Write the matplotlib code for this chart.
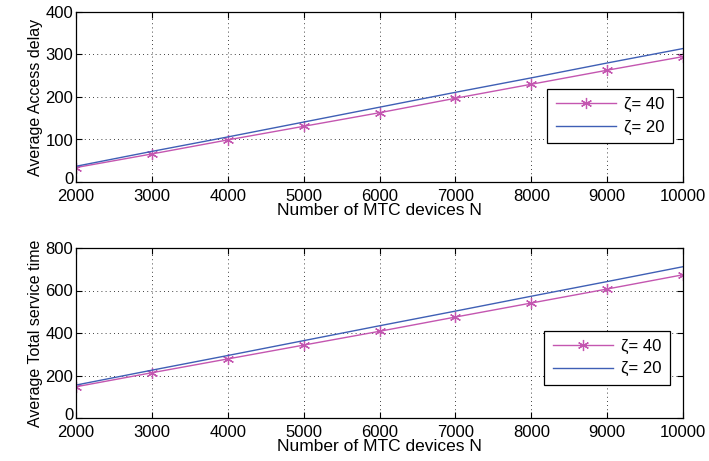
import matplotlib
matplotlib.use("Agg")
import matplotlib.pyplot as plt
import matplotlib.transforms as mtransforms

plt.rcParams['font.family'] = ['Liberation Sans', 'DejaVu Sans']

# number of MTC devices
n_devices = [2000, 3000, 4000, 5000, 6000, 7000, 8000, 9000, 10000]

# average access delay
delay_z40 = [34, 66, 99, 131, 163, 197, 230, 263, 295]
delay_z20 = [37, 72, 106, 141, 176, 211, 245, 280, 314]

# average total service time
service_z40 = [147, 213, 278, 343, 408, 475, 541, 607, 674]
service_z20 = [155, 225, 294, 364, 434, 503, 573, 642, 712]

pink = '#c456b0'
blue = '#3f5fb5'

fig = plt.figure(figsize=(7.09, 4.61), dpi=100)
ax1 = fig.add_axes([76 / 709, 1 - 182 / 461, 607 / 709, 170 / 461])
ax2 = fig.add_axes([76 / 709, 1 - 418 / 461, 607 / 709, 170 / 461])


def style(ax, ymax, ystep, ylabel):
    ax.set_xlim(2000, 10000)
    ax.set_ylim(0, ymax)
    ax.set_xticks(n_devices)
    ax.set_yticks(range(0, ymax + 1, ystep))
    ax.grid(True, color='black', linestyle=(0, (1, 4)), linewidth=0.6)
    ax.tick_params(direction='in', length=4, labelsize=12, width=0.8,
                   top=True, right=True)
    ax.tick_params(axis='x', pad=5)
    ax.tick_params(axis='y', pad=2)
    for s in ax.spines.values():
        s.set_linewidth(0.9)
    ax.set_xlabel('Number of MTC devices N', fontsize=12.5, labelpad=-1)
    ax.set_ylabel(ylabel, fontsize=11.5, labelpad=2)
    # lift the "0" label a little so it sits just above "2000"
    fig.canvas.draw()
    zero = ax.get_yticklabels()[0]
    zero.set_transform(zero.get_transform() +
                       mtransforms.ScaledTranslation(0, 3 / 72, fig.dpi_scale_trans))


def add_legend(ax, anchor):
    leg = ax.legend(loc='center right', bbox_to_anchor=anchor, fontsize=12,
                    fancybox=False, edgecolor='black', framealpha=1,
                    handlelength=3.6, borderpad=0.5, labelspacing=0.45,
                    handletextpad=0.5, borderaxespad=0)
    leg.get_frame().set_linewidth(0.9)


ax1.plot(n_devices, delay_z40, color=pink, lw=1, marker=(6, 2, 0), ms=8,
         mew=0.9, label='ζ= 40')
ax1.plot(n_devices, delay_z20, color=blue, lw=1, label='ζ= 20')
style(ax1, 400, 100, 'Average Access delay')
add_legend(ax1, (0.9835, 0.39))

ax2.plot(n_devices, service_z40, color=pink, lw=1, marker=(6, 2, 0), ms=8,
         mew=0.9, label='ζ= 40')
ax2.plot(n_devices, service_z20, color=blue, lw=1, label='ζ= 20')
style(ax2, 800, 200, 'Average Total service time')
add_legend(ax2, (0.9785, 0.355))

fig.savefig('out.png', dpi=100)
